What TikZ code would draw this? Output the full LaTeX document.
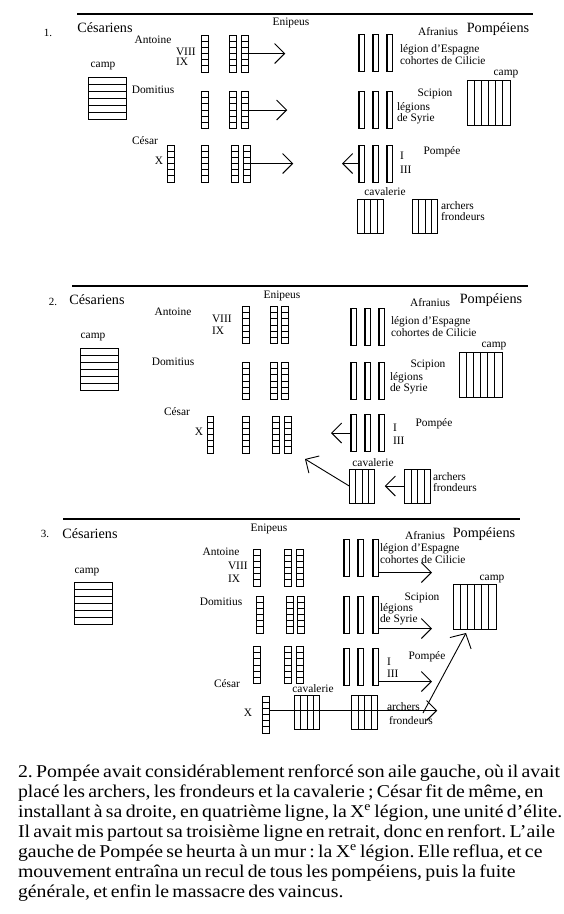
\documentclass[tikz,border=0pt]{standalone}
\usepackage{fontspec}
\setmainfont{Liberation Serif}
\newfontfamily\bodyfont[FakeStretch=1.1]{Liberation Serif}
\usetikzlibrary{arrows.meta,calc}
\frenchspacing
\tikzset{
  every node/.style={inner sep=0pt,outer sep=0pt},
  lab/.style={font=\fontsize{11.4}{12}\selectfont},
  big/.style={font=\fontsize{14.2}{16}\selectfont},
  num/.style={font=\fontsize{11}{12}\selectfont},
  bodyline/.style={anchor=base west,font=\bodyfont\fontsize{18}{20}\selectfont},
  rulestyle/.style={line width=1.1pt},
  arr/.style={line width=0.9pt,-{Straight Barb[length=10pt,width=20pt]}},
  hlines/.style={path picture={\foreach \k [evaluate=\k as \f using \k/(#1+1)] in {1,...,#1}{\draw[line width=0.75pt] ($(path picture bounding box.north west)!\f!(path picture bounding box.south west)$) -- ($(path picture bounding box.north east)!\f!(path picture bounding box.south east)$);}}},
  vlines/.style={path picture={\foreach \k [evaluate=\k as \f using \k/(#1+1)] in {1,...,#1}{\draw[line width=0.75pt] ($(path picture bounding box.north west)!\f!(path picture bounding box.north east)$) -- ($(path picture bounding box.south west)!\f!(path picture bounding box.south east)$);}}},
  cleg/.style={draw,line width=0.9pt,minimum width=6.5pt,minimum height=37pt,hlines=5},
  pleg/.style={draw,line width=1pt,minimum width=6pt,minimum height=37pt,path picture={\draw[line width=0.8pt] ([xshift=1.7pt]path picture bounding box.north west) -- ([xshift=1.7pt]path picture bounding box.south west);}},
  ccamp/.style={draw,line width=1pt,minimum width=38pt,minimum height=42pt,hlines=5},
  pcamp/.style={draw,line width=1pt,minimum width=43pt,minimum height=45pt,vlines=5},
  troop/.style={draw,line width=1pt,minimum width=25.5pt,minimum height=34pt,vlines=3},
}
\begin{document}
\begin{tikzpicture}[x=1pt,y=-1pt]
\useasboundingbox (0,0) rectangle (563,914);

% ================= PANEL 1 =================
\draw[rulestyle] (77,14) -- (533,14);
\node[num] (n1) at (48,33) {1.};
\node[big] (ces1) at (105,28) {Césariens};
\node[lab] (eni1) at (291,23) {Enipeus};
\node[lab] (ant1) at (153,40) {Antoine};
\node[lab,anchor=west] (viii1) at (176,52) {VIII};
\node[lab,anchor=west] (ix1) at (176,62) {IX};
\node[lab] (campl1) at (103,66) {camp};
\node[ccamp] (ccamp1) at (107.5,98) {};
\node[lab] (dom1) at (153,90) {Domitius};
\node[lab] (cesar1) at (145,141) {César};
\node[lab] (x1) at (159,161) {X};
\node[cleg] (a1r1c1) at (205,53.5) {};
\node[cleg] (a1r1c2) at (233,53.5) {};
\node[cleg] (a1r1c3) at (245,53.5) {};
\node[cleg] (a1r2c1) at (205,110) {};
\node[cleg] (a1r2c2) at (233,110) {};
\node[cleg] (a1r2c3) at (245,110) {};
\node[cleg] (a1x) at (171,163.5) {};
\node[cleg] (a1r3c1) at (205,163.5) {};
\node[cleg] (a1r3c2) at (235,163.5) {};
\node[cleg] (a1r3c3) at (247,163.5) {};
\coordinate (t1r1) at ($(a1r1c3.east)+(37,0)$);
\coordinate (t1r2) at ($(a1r2c3.east)+(39,0)$);
\coordinate (t1r3) at ($(a1r3c3.east)+(43,0)$);
\draw[arr] (a1r1c3.east) -- (t1r1);
\draw[arr] (a1r2c3.east) -- (t1r2);
\draw[arr] (a1r3c3.east) -- (t1r3);

\node[big] (pom1) at (498,29) {Pompéiens};
\node[lab] (afr1) at (438,32) {Afranius};
\node[pleg] (b1r1c1) at (361,53) {};
\node[pleg] (b1r1c2) at (375,53) {};
\node[pleg] (b1r1c3) at (389,53) {};
\node[lab,anchor=west] (esp1) at (400,50) {légion d’Espagne};
\node[lab,anchor=west] (cil1) at (400,61) {cohortes de Cilicie};
\node[pcamp] (pcamp1) at (488.5,103) {};
\node[lab] (pcampl1) at (506,74) {camp};
\node[pleg] (b1r2c1) at (361,110) {};
\node[pleg] (b1r2c2) at (375,110) {};
\node[pleg] (b1r2c3) at (389,110) {};
\node[lab] (sci1) at (435,94) {Scipion};
\node[lab,anchor=west] (leg1) at (397,108) {légions};
\node[lab,anchor=west] (syr1) at (397,119) {de Syrie};
\node[pleg] (b1r3c1) at (361,163.5) {};
\node[pleg] (b1r3c2) at (375,163.5) {};
\node[pleg] (b1r3c3) at (389,163.5) {};
\coordinate (t1p) at ($(b1r3c1.west)+(-16,0)$);
\draw[arr] (b1r3c1.west) -- (t1p);
\node[lab,anchor=west] (i1) at (400,156) {I};
\node[lab,anchor=west] (iii1) at (400,170) {III};
\node[lab] (pomp1) at (442,152) {Pompée};
\node[lab] (cavl1) at (385,192) {cavalerie};
\node[troop] (cav1) at (370.5,216) {};
\node[troop] (arc1) at (425,216) {};
\node[lab,anchor=west] (arcl1) at (441,206) {archers};
\node[lab,anchor=west] (fro1) at (441,217) {frondeurs};

% ================= PANEL 2 =================
\draw[rulestyle] (72,286) -- (528,286);
\node[num] (n2) at (53,302) {2.};
\node[big] (ces2) at (97,300) {Césariens};
\node[lab] (eni2) at (282,296) {Enipeus};
\node[lab] (ant2) at (173,312) {Antoine};
\node[lab,anchor=west] (viii2) at (212,319) {VIII};
\node[lab,anchor=west] (ix2) at (212,331) {IX};
\node[lab] (campl2) at (93,337) {camp};
\node[ccamp] (ccamp2) at (99,369.5) {};
\node[lab] (dom2) at (173,362) {Domitius};
\node[lab] (cesar2) at (177,412) {César};
\node[lab] (x2) at (199,432) {X};
\node[cleg] (a2r1c1) at (246,325) {};
\node[cleg] (a2r1c2) at (274,325) {};
\node[cleg] (a2r1c3) at (285,325) {};
\node[cleg] (a2r2c1) at (246,381) {};
\node[cleg] (a2r2c2) at (274,381) {};
\node[cleg] (a2r2c3) at (285,381) {};
\node[cleg] (a2x) at (210.5,434.5) {};
\node[cleg] (a2r3c1) at (246,434.5) {};
\node[cleg] (a2r3c2) at (276,434.5) {};
\node[cleg] (a2r3c3) at (288,434.5) {};

\node[big] (pom2) at (491,300) {Pompéiens};
\node[lab] (afr2) at (430,303) {Afranius};
\node[pleg] (b2r1c1) at (353,327) {};
\node[pleg] (b2r1c2) at (367,327) {};
\node[pleg] (b2r1c3) at (381,327) {};
\node[lab,anchor=west] (esp2) at (391,322) {légion d’Espagne};
\node[lab,anchor=west] (cil2) at (391,333) {cohortes de Cilicie};
\node[pcamp] (pcamp2) at (480.5,375) {};
\node[lab] (pcampl2) at (494,346) {camp};
\node[pleg] (b2r2c1) at (353,381) {};
\node[pleg] (b2r2c2) at (367,381) {};
\node[pleg] (b2r2c3) at (381,381) {};
\node[lab] (sci2) at (428,365) {Scipion};
\node[lab,anchor=west] (leg2) at (390,378) {légions};
\node[lab,anchor=west] (syr2) at (390,389) {de Syrie};
\node[pleg] (b2r3c1) at (353,433) {};
\node[pleg] (b2r3c2) at (367,433) {};
\node[pleg] (b2r3c3) at (381,433) {};
\coordinate (t2p) at ($(b2r3c1.west)+(-19,0)$);
\draw[arr] (b2r3c1.west) -- (t2p);
\node[lab,anchor=west] (i2) at (393,428) {I};
\node[lab,anchor=west] (iii2) at (393,441) {III};
\node[lab] (pomp2) at (434,424) {Pompée};
\node[lab] (cavl2) at (373,463) {cavalerie};
\node[troop] (cav2) at (362,486) {};
\node[troop] (arc2) at (417.5,486) {};
\node[lab,anchor=west] (arcl2) at (433,477) {archers};
\node[lab,anchor=west] (fro2) at (433,488) {frondeurs};
\coordinate (t2cav) at (305,459);
\coordinate (t2arc) at ($(arc2.west)+(-20,0)$);
\draw[arr] (cav2.west) -- (t2cav);
\draw[arr] (arc2.west) -- (t2arc);

% ================= PANEL 3 =================
\draw[rulestyle] (63,519) -- (520,519);
\node[num] (n3) at (45,534) {3.};
\node[big] (ces3) at (90,534) {Césariens};
\node[lab] (eni3) at (269,529) {Enipeus};
\node[lab] (campl3) at (87,572) {camp};
\node[ccamp] (ccamp3) at (93,603.5) {};
\node[lab] (ant3) at (221,552) {Antoine};
\node[lab,anchor=west] (viii3) at (228,566) {VIII};
\node[lab,anchor=west] (ix3) at (228,579) {IX};
\node[lab] (dom3) at (221,602) {Domitius};
\node[lab] (cesar3) at (227,684) {César};
\node[lab] (x3) at (248,713) {X};
\node[cleg] (a3r1c1) at (257,567.5) {};
\node[cleg] (a3r1c2) at (288,567.5) {};
\node[cleg] (a3r1c3) at (300,567.5) {};
\node[cleg] (a3r2c1) at (260,614.5) {};
\node[cleg] (a3r2c2) at (290,614.5) {};
\node[cleg] (a3r2c3) at (301,614.5) {};
\node[cleg] (a3r3c1) at (257,665) {};
\node[cleg] (a3r3c2) at (288,665) {};
\node[cleg] (a3r3c3) at (300,665) {};
\node[cleg] (a3x) at (266,714.5) {};
\node[lab] (cavl3) at (313,689) {cavalerie};
\node[troop] (cav3) at (307,712) {};
\node[troop] (arc3) at (364.5,712) {};
\node[lab,anchor=west] (arcl3) at (387,707) {archers};
\node[lab,anchor=west] (fro3) at (389,721) {frondeurs};
\coordinate (s3x) at ($(a3x.east)+(0,-4)$);
\coordinate (t3x) at ($(a3x.east)+(168,-4)$);
\draw[arr] (s3x) -- (t3x);

\node[big] (pom3) at (484,534) {Pompéiens};
\node[lab] (afr3) at (425,536) {Afranius};
\node[pleg] (b3r1c1) at (346,558) {};
\node[pleg] (b3r1c2) at (360,558) {};
\node[pleg] (b3r1c3) at (375,558) {};
\node[lab,anchor=west] (esp3) at (380,549) {légion d’Espagne};
\node[lab,anchor=west] (cil3) at (380,560) {cohortes de Cilicie};
\node[pcamp] (pcamp3) at (474.5,606.5) {};
\node[lab] (pcampl3) at (492,579) {camp};
\node[pleg] (b3r2c1) at (346,615) {};
\node[pleg] (b3r2c2) at (360,615) {};
\node[pleg] (b3r2c3) at (375,615) {};
\node[lab] (sci3) at (422,598) {Scipion};
\node[lab,anchor=west] (leg3) at (380,609) {légions};
\node[lab,anchor=west] (syr3) at (380,620) {de Syrie};
\node[pleg] (b3r3c1) at (346,667) {};
\node[pleg] (b3r3c2) at (360,667) {};
\node[pleg] (b3r3c3) at (375,667) {};
\node[lab,anchor=west] (i3) at (387,662) {I};
\node[lab,anchor=west] (iii3) at (387,674) {III};
\node[lab] (pomp3) at (427,657) {Pompée};
\coordinate (s3r1) at ($(b3r1c3.south east)+(0,-4)$);
\coordinate (t3r1) at ($(b3r1c3.south east)+(54,-4)$);
\coordinate (s3r2) at ($(b3r2c3.south east)+(0,-5)$);
\coordinate (t3r2) at ($(b3r2c3.south east)+(54,-5)$);
\coordinate (s3r3) at ($(b3r3c3.south east)+(0,-4)$);
\coordinate (t3r3) at ($(b3r3c3.south east)+(54,-4)$);
\draw[arr] (s3r1) -- (t3r1);
\draw[arr] (s3r2) -- (t3r2);
\draw[arr] (s3r3) -- (t3r3);
\coordinate (d3s) at (423,713);
\coordinate (d3t) at (466,633);
\draw[line width=0.9pt,-{Straight Barb[length=11pt,width=24pt]}] (d3s) -- (d3t);

% ================= TEXT =================
\node[bodyline] (l1) at (18,777) {\makebox[525pt][s]{2. Pompée avait considérablement renforcé son aile gauche, où il avait}};
\node[bodyline] (l2) at (18,797) {\makebox[524pt][s]{placé les archers, les frondeurs et la cavalerie ; César fit de même, en}};
\node[bodyline] (l3) at (18,817) {\makebox[525pt][s]{installant à sa droite, en quatrième ligne, la X\textsuperscript{e} légion, une unité d’élite.}};
\node[bodyline] (l4) at (18,837) {\makebox[525pt][s]{Il avait mis partout sa troisième ligne en retrait, donc en renfort. L’aile}};
\node[bodyline] (l5) at (18,857) {\makebox[492pt][s]{gauche de Pompée se heurta à un mur : la X\textsuperscript{e} légion. Elle reflua, et ce}};
\node[bodyline] (l6) at (18,877) {\makebox[497pt][s]{mouvement entraîna un recul de tous les pompéiens, puis la fuite}};
\node[bodyline] (l7) at (18,897) {\makebox[284pt][s]{générale, et enfin le massacre des vaincus.}};
\end{tikzpicture}
\end{document}
